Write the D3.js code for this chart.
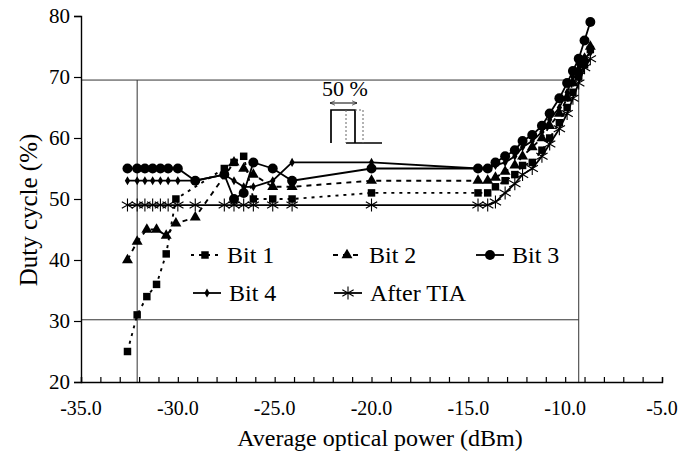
<!DOCTYPE html>
<html>
<head>
<meta charset="utf-8">
<script src="https://cdnjs.cloudflare.com/ajax/libs/d3/7.8.5/d3.min.js"></script>
<style>
  body { margin: 0; background: #fff; }
  svg text { font-family: "Liberation Serif", "Times New Roman", serif; fill: #000; }
</style>
</head>
<body>
<div id="chart"></div>
<script>
// duty cycle vs average optical power
const bit1X = [-32.6, -32.1, -31.6, -31.1, -30.6, -30.1, -27.6, -27.1, -26.6, -26.1, -25.1, -24.1, -20.0,
               -14.5, -14.0, -13.6, -13.1, -12.6, -12.2, -11.7, -11.2, -10.8, -10.3, -9.9, -9.6, -9.3, -9.0, -8.7];
const bit1Y = [25, 31, 34, 36, 41, 50, 55, 56, 57, 50, 50, 50, 51,
               51, 51, 52, 53, 54, 55.5, 56, 58, 60, 62.5, 65, 67.5, 70, 72, 74.5];

const bit2X = [-32.6, -32.1, -31.6, -31.1, -30.6, -30.1, -29.1, -27.1, -26.6, -26.1, -25.1, -24.1, -20.0,
               -14.5, -14.0, -13.6, -13.1, -12.6, -12.2, -11.7, -11.2, -10.8, -10.3, -9.9, -9.6, -9.3, -9.0, -8.7];
const bit2Y = [40, 43, 45, 45, 44, 46, 47, 56, 55, 54, 52, 52, 53,
               53, 53, 53.5, 54.5, 55.5, 57, 58.5, 60, 62, 64, 66.5, 69, 71, 73, 75];

const bit3X = [-32.6, -32.1, -31.7, -31.3, -30.9, -30.5, -30.0, -29.1, -27.6, -27.1, -26.6, -26.1, -25.1, -24.1, -20.0,
               -14.5, -14.0, -13.6, -13.1, -12.6, -12.2, -11.7, -11.2, -10.8, -10.3, -9.9, -9.6, -9.3, -9.0, -8.7];
const bit3Y = [55, 55, 55, 55, 55, 55, 55, 53, 54, 50, 51, 56, 55, 53, 55,
               55, 55, 56, 57, 58, 59.5, 60.5, 62, 64, 66.5, 69, 71, 73, 76, 79];

const bit4X = bit3X;
const bit4Y = [53, 53, 53, 53, 53, 53, 53, 53, 54, 53, 52, 52, 53, 56, 56,
               55, 55, 55.5, 56, 57, 58.5, 59.5, 61, 63, 65, 67.5, 70, 72, 73, 74];

const tiaX = bit3X;
const tiaY = [49, 49, 49, 49, 49, 49, 49, 49, 49, 49, 49, 49, 49, 49, 49,
              49, 49, 49.5, 51, 52.5, 54, 55, 57, 59, 61.5, 64, 66.5, 69, 71.5, 73];

const xTicks = [-35, -30, -25, -20, -15, -10, -5];
const yTicks = [20, 30, 40, 50, 60, 70, 80];
// thin reference lines
const refH = [69.5, 30.2];
const refV = [-32.1, -9.3];

const width = 679, height = 452;
const svg = d3.select("#chart").append("svg")
    .attr("width", width)
    .attr("height", height);

const x = d3.scaleLinear().domain([-35, -5]).range([81, 662]);
const y = d3.scaleLinear().domain([20, 80]).range([382, 16]);

// reference lines
refH.forEach(v => {
    svg.append("line")
        .attr("x1", x(-35)).attr("x2", x(refV[1]))
        .attr("y1", y(v)).attr("y2", y(v))
        .attr("stroke", "#333").attr("stroke-width", 1);
});
refV.forEach(v => {
    svg.append("line")
        .attr("x1", x(v)).attr("x2", x(v))
        .attr("y1", y(20)).attr("y2", y(refH[0]))
        .attr("stroke", "#333").attr("stroke-width", 1);
});

// axes
let xAxis = svg.append("g")
    .attr("transform", "translate(0," + y(20) + ")")
    .call(d3.axisBottom(x).ticks(30).tickSize(-5).tickFormat(""));
xAxis.select(".domain").attr("stroke", "#000").attr("stroke-width", 1.4);
xAxis.selectAll(".tick line").attr("stroke", "#000").attr("stroke-width", 1.2);

svg.append("g").selectAll("text")
    .data(xTicks)
    .enter().append("text")
    .attr("x", d => x(d))
    .attr("y", y(20) + 33)
    .attr("text-anchor", "middle")
    .attr("font-size", 20)
    .text(d => d.toFixed(1));

let yAxis = svg.append("g")
    .attr("transform", "translate(" + x(-35) + ",0)")
    .call(d3.axisLeft(y).tickValues(yTicks).tickSize(7).tickPadding(4));
yAxis.select(".domain").attr("stroke", "#000").attr("stroke-width", 1.4);
yAxis.selectAll(".tick line").attr("stroke", "#000").attr("stroke-width", 1.2);
yAxis.selectAll(".tick text")
    .attr("font-size", 21)
    .attr("fill", "#000");

svg.append("text")
    .attr("x", 380).attr("y", 446)
    .attr("text-anchor", "middle")
    .attr("font-size", 24)
    .text("Average optical power (dBm)");

svg.append("text")
    .attr("transform", "translate(37,210) rotate(-90)")
    .attr("text-anchor", "middle")
    .attr("font-size", 25)
    .text("Duty cycle (%)");

// markers
const starPath = s => {
    let r = s / 2;
    return "M0," + (-r) + "L0," + r +
        "M" + (-r * 0.87) + "," + (-r * 0.5) + "L" + (r * 0.87) + "," + (r * 0.5) +
        "M" + (-r * 0.87) + "," + (r * 0.5) + "L" + (r * 0.87) + "," + (-r * 0.5);
};

const series = [
    { name: "Bit 1", xs: bit1X, ys: bit1Y, dash: "3,5", sym: d3.symbolSquare, size: 56 },
    { name: "Bit 2", xs: bit2X, ys: bit2Y, dash: "5,5", sym: d3.symbolTriangle, size: 52 },
    { name: "Bit 3", xs: bit3X, ys: bit3Y, dash: null, sym: d3.symbolCircle, size: 78 },
    { name: "Bit 4", xs: bit4X, ys: bit4Y, dash: null, sym: d3.symbolDiamond, size: 24 },
    { name: "After TIA", xs: tiaX, ys: tiaY, dash: null, sym: "star", size: 13 }
];

let line = d3.line()
    .x(d => x(d[0]))
    .y(d => y(d[1]));

let drawMarker = (g, s, cx, cy) => {
    if (s.sym === "star") {
        g.append("path")
            .attr("transform", "translate(" + cx + "," + cy + ")")
            .attr("d", starPath(s.size))
            .attr("stroke", "#000").attr("stroke-width", 1.1).attr("fill", "none");
    } else {
        g.append("path")
            .attr("transform", "translate(" + cx + "," + cy + ")")
            .attr("d", d3.symbol().type(s.sym).size(s.size)())
            .attr("fill", "#000");
    }
};

series.forEach(s => {
    let pts = s.xs.map((v, i) => [v, s.ys[i]]);
    let g = svg.append("g");
    g.append("path")
        .datum(pts)
        .attr("d", line)
        .attr("fill", "none")
        .attr("stroke", "#000")
        .attr("stroke-width", s.dash ? 1.9 : 1.8)
        .attr("stroke-dasharray", s.dash);
    pts.forEach(p => drawMarker(g, s, x(p[0]), y(p[1])));
});

// legend
const legendPos = [[205, 255], [347, 255], [490, 255], [207, 293], [348, 293]];
series.forEach((s, i) => {
    let g = svg.append("g");
    let lx = legendPos[i][0], ly = legendPos[i][1];
    g.append("line")
        .attr("x1", lx - 14).attr("x2", lx + 14)
        .attr("y1", ly).attr("y2", ly)
        .attr("stroke", "#000")
        .attr("stroke-width", s.dash ? 1.9 : 1.8)
        .attr("stroke-dasharray", s.dash);
    drawMarker(g, s, lx, ly);
    g.append("text")
        .attr("x", lx + 22).attr("y", ly + 8)
        .attr("font-size", 24)
        .text(s.name);
});

// inset: pulse sketch
svg.append("text")
    .attr("x", 322).attr("y", 96)
    .attr("font-size", 22)
    .text("50 %");
svg.append("defs").append("marker")
    .attr("id", "ah")
    .attr("viewBox", "0 0 10 10")
    .attr("refX", 9).attr("refY", 5)
    .attr("markerWidth", 6).attr("markerHeight", 6)
    .attr("orient", "auto-start-reverse")
    .append("path").attr("d", "M0,1L9,5L0,9").attr("fill", "none").attr("stroke", "#000");
svg.append("line")
    .attr("x1", 330).attr("x2", 357).attr("y1", 103).attr("y2", 103)
    .attr("stroke", "#000").attr("stroke-width", 1)
    .attr("marker-start", "url(#ah)").attr("marker-end", "url(#ah)");
svg.append("path")
    .attr("d", "M331,143V110H355V143M346,143H382")
    .attr("fill", "none").attr("stroke", "#000").attr("stroke-width", 1.7);
svg.append("path")
    .attr("d", "M346,110V143M355,110H363V143")
    .attr("fill", "none").attr("stroke", "#666").attr("stroke-width", 1).attr("stroke-dasharray", "2,2");
</script>
</body>
</html>
